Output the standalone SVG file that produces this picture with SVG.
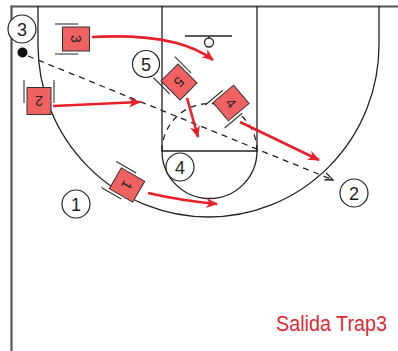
<svg xmlns="http://www.w3.org/2000/svg" width="398" height="351" viewBox="0 0 398 351">
  <style>
    .court { fill: none; stroke: #222; stroke-width: 1.3; }
    .border { fill: none; stroke: #555; stroke-width: 2.2; }
    .dash { fill: none; stroke: #222; stroke-width: 1.3; stroke-dasharray: 6 5; }
    .off circle { fill: #fff; stroke: #222; stroke-width: 1.2; }
    .off text { font-family: "Liberation Sans", Arial, sans-serif; font-size: 18px; fill: #222; text-anchor: middle; }
    .def-rect { fill: #F06262; stroke: #333; stroke-width: 1; }
    .def-arm { stroke: #333; stroke-width: 1.1; }
    .def text { font-family: "Liberation Sans", Arial, sans-serif; font-size: 14px; fill: #222; text-anchor: middle; }
    .move { fill: none; stroke: #E8202A; stroke-width: 2.6; marker-end: url(#redArrow); }
    .pass { fill: none; stroke: #222; stroke-width: 1.3; stroke-dasharray: 6 5; marker-end: url(#passHead); }
    .caption { font-family: "Liberation Sans", Arial, sans-serif; font-size: 22px; fill: #DD2A35; }
  </style>
  <defs>
    <marker id="redArrow" markerUnits="userSpaceOnUse" markerWidth="14" markerHeight="12" refX="11" refY="5" orient="auto" overflow="visible">
      <path d="M0,0 L12,5 L0,10 L3.5,5 Z" fill="#E8202A"/>
    </marker>
    <marker id="passHead" markerUnits="userSpaceOnUse" markerWidth="12" markerHeight="12" refX="9" refY="4" orient="auto" overflow="visible">
      <path d="M0,0 L9,4 L1,7" fill="none" stroke="#222" stroke-width="1.3"/>
    </marker>
    <!-- defender symbol: body plus stance lines, drawn upright -->
    <g id="defBody">
      <line class="def-arm" x1="-15" y1="-2" x2="-15" y2="21"/>
      <line class="def-arm" x1="15" y1="-2" x2="15" y2="21"/>
      <rect class="def-rect" x="-12" y="-13.5" width="24" height="27"/>
    </g>
  </defs>

  <rect width="398" height="351" fill="#fff"/>

  <!-- court -->
  <g id="court">
    <line class="border" x1="11" y1="6.5" x2="398" y2="6.5"/>
    <line class="border" x1="11.5" y1="5.5" x2="11.5" y2="351"/>
    <path class="court" d="M38,6 L38,45 A170.5,172 0 0 0 379,45 L379,6"/>
    <path class="court" d="M162,6 L162,151 L257,151 L257,6"/>
    <path class="court" d="M162,151 A47.5,47.5 0 0 0 257,151"/>
    <path class="dash" d="M162,151 A47.5,47.5 0 0 1 257,151"/>
    <line class="court" x1="185" y1="36" x2="232" y2="36"/>
    <line class="court" x1="209" y1="36" x2="209" y2="38"/>
    <circle class="court" cx="209" cy="42.5" r="4.5"/>
  </g>

  <!-- connectors -->
  <g id="connectors">
    <path class="pass" d="M28,56 L333,180"/>
    <path class="move" d="M92,37 C150,34 190,42 213,60"/>
    <path class="move" d="M53,106 L140,102"/>
    <path class="move" d="M187,98 L198,137"/>
    <path class="move" d="M240,122 L319,160"/>
    <path class="move" d="M148,193 Q183,201 217,204"/>
  </g>

  <!-- offense -->
  <g id="o3" class="off"><circle cx="22" cy="29" r="14"/><text x="22" y="35.5">3</text></g>
  <g id="ball"><circle cx="22.5" cy="52.5" r="5" fill="#111"/></g>
  <g id="o5" class="off"><circle cx="146" cy="64" r="13.5"/><text x="146" y="70.5">5</text></g>
  <g id="o4" class="off"><circle cx="180" cy="167" r="14"/><text x="180" y="173.5">4</text></g>
  <g id="o1" class="off"><circle cx="76" cy="204" r="14"/><text x="76" y="210.5">1</text></g>
  <g id="o2" class="off"><circle cx="354" cy="193" r="14"/><text x="354" y="199.5">2</text></g>

  <!-- defense -->
  <g id="x3" class="def" transform="translate(76,39) rotate(90)"><use href="#defBody"/><text y="5">3</text></g>
  <g id="x2" class="def" transform="translate(39,101) rotate(180)"><use href="#defBody"/><text y="5">2</text></g>
  <g id="x5" class="def" transform="translate(179,82) rotate(135)"><use href="#defBody"/><text y="5">5</text></g>
  <g id="x4" class="def" transform="translate(231,103) rotate(50)"><use href="#defBody"/><text y="5">4</text></g>
  <g id="x1" class="def" transform="translate(127,185) rotate(120)"><use href="#defBody"/><text y="5">1</text></g>

  <text class="caption" x="276" y="331" textLength="111" lengthAdjust="spacingAndGlyphs">Salida Trap3</text>
</svg>
